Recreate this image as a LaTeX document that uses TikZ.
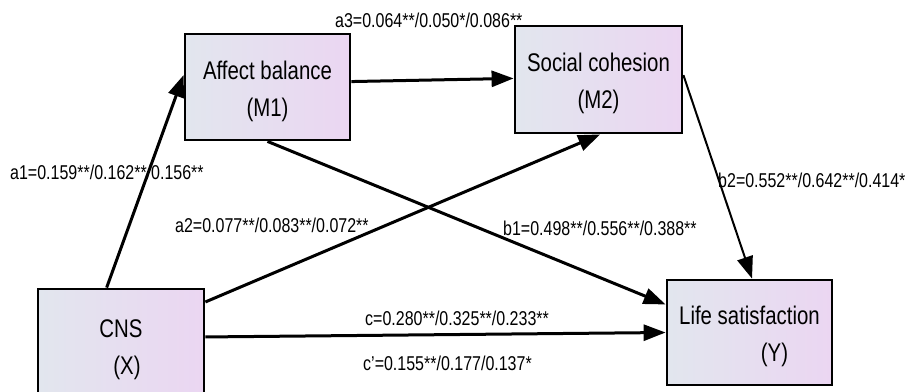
\documentclass[tikz,border=0pt]{standalone}
\usepackage{fontspec}
\setmainfont{Liberation Sans}[FakeStretch=0.8]
\usepackage{tikz}
\usetikzlibrary{arrows.meta,calc}
\definecolor{boxleft}{HTML}{E2E6EE}
\definecolor{boxright}{HTML}{EBD6F2}

\begin{document}
\begin{tikzpicture}[x=1pt, y=-1pt,
  box/.style={draw, line width=2.8pt, left color=boxleft, right color=boxright, minimum width=165pt, minimum height=106pt, align=center, inner sep=0pt, text height=64pt, font=\fontsize{25.5}{37}\selectfont},
  arrow/.style={-{Triangle[length=22pt,width=16pt]}, line width=3pt},
  lbl/.style={anchor=west, inner sep=0pt, font=\fontsize{20}{22}\selectfont}
]
\useasboundingbox (0,0) rectangle (907,391);
% variables
\node[box] (m1) at (267.5,87) {Affect balance\\(M1)};
\node[box, minimum width=167pt, minimum height=107pt] (m2) at (598.5,79.5) {Social cohesion\\(M2)};
\node[box, minimum width=166pt, minimum height=112pt] (cns) at (121,345) {CNS\\\hspace*{12pt}(X)};
\node[box, minimum height=105pt] (ls) at (749.5,332.5) {Life satisfaction\\\hspace*{50pt}(Y)};
% paths
\draw[arrow] ($(cns.north west)!0.415!(cns.north east)$) -- ($(m1.north west)!0.39!(m1.south west)$);
\draw[arrow] ($(m1.north east)!0.45!(m1.south east)$) -- ($(m2.north west)!0.49!(m2.south west)$);
\draw[arrow] ($(cns.north east)!0.125!(cns.south east)$) -- ($(m2.south west)!0.51!(m2.south east)$);
\draw[arrow] (m1.south) -- ($(ls.north west)!0.24!(ls.south west)$);
\draw[arrow, line width=2pt] ($(m2.north east)!0.46!(m2.south east)$) -- ($(ls.north west)!0.515!(ls.north east)$);
\draw[arrow] ($(cns.north east)!0.43!(cns.south east)$) -- (ls.west);
% coefficients
\node[lbl] (la3) at (335,20) {a3=0.064**/0.050*/0.086**};
\node[lbl] (la1) at (10,172) {a1=0.159**/0.162**/0.156**};
\node[lbl] (la2) at (175,225) {a2=0.077**/0.083**/0.072**};
\node[lbl] (lb1) at (503,228) {b1=0.498**/0.556**/0.388**};
\node[lbl] (lb2) at (718,180) {b2=0.552**/0.642**/0.414*};
\node[lbl] (lc) at (365,318) {c=0.280**/0.325**/0.233**};
\node[lbl] (lcp) at (363,363) {c'=0.155**/0.177/0.137*};
\end{tikzpicture}
\end{document}
